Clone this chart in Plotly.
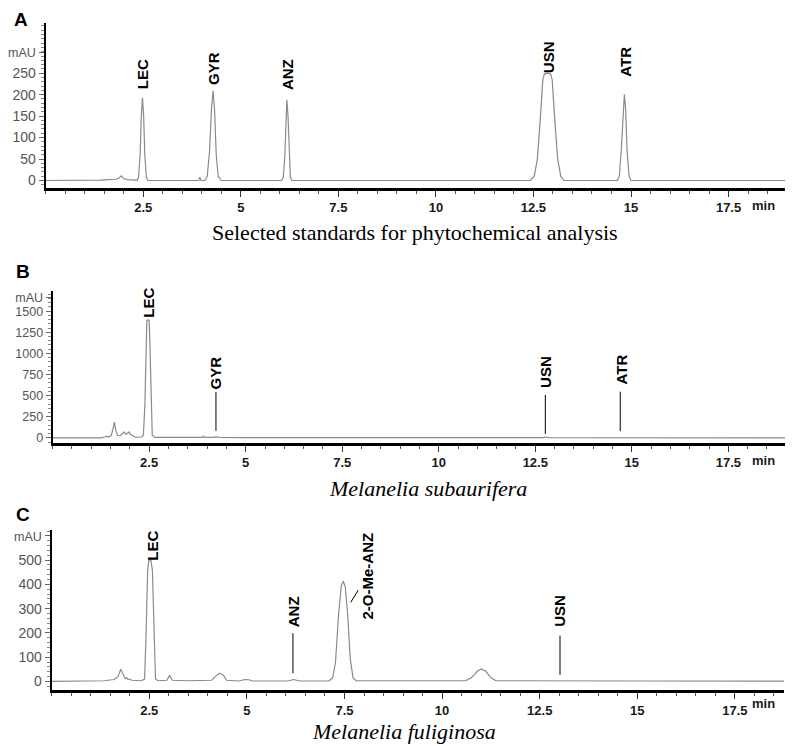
import plotly.graph_objects as go

# the page body has an 8px margin, so the figure is drawn 8px in from the corner
OFF = 8
W, H = 798 - OFF, 746 - OFF

# ---------------- data ----------------
# A: selected standards
time_a = [0.0, 1.2, 1.4, 1.6, 1.8, 1.88, 1.94, 2.0, 2.1, 2.3, 2.34, 2.38, 2.42, 2.45, 2.48, 2.51,
          2.54, 2.58, 2.62, 3.92, 3.95, 3.98, 4.08, 4.14, 4.2, 4.25, 4.29, 4.33, 4.37, 4.42, 4.5,
          6.05, 6.09, 6.13, 6.16, 6.18, 6.21, 6.24, 6.27, 6.31, 12.42, 12.52, 12.6, 12.68, 12.74,
          12.78, 12.86, 12.94, 12.98, 13.04, 13.12, 13.2, 13.28, 14.65, 14.7, 14.75, 14.8, 14.83,
          14.86, 14.9, 14.95, 15.0, 19.0]
mau_a = [0, 0, 1, 2, 3, 6, 11, 4, 2, 1, 0, 8, 60, 150, 193, 150,
         60, 8, 0, 0, 8, 0, 0, 10, 70, 170, 209, 160, 60, 10, 0,
         0, 8, 60, 150, 188, 150, 60, 8, 0, 0, 10, 50, 150, 235,
         248, 250, 248, 235, 150, 50, 10, 0, 0, 10, 70, 170, 200,
         170, 70, 10, 0, 0]

# B: Melanelia subaurifera
time_b = [0.0, 1.25, 1.35, 1.41, 1.45, 1.52, 1.57, 1.6, 1.63, 1.68, 1.75, 1.82, 1.86, 1.9, 1.94,
          1.98, 2.02, 2.08, 2.15, 2.3, 2.35, 2.39, 2.42, 2.44, 2.47, 2.5, 2.52, 2.55, 2.58, 2.65,
          3.0, 3.88, 3.91, 3.94, 4.15, 4.23, 4.32, 5.0, 12.7, 12.77, 12.85, 19.0]
mau_b = [0, 0, 10, 20, 10, 30, 120, 185, 100, 30, 25, 50, 70, 40, 55,
         70, 40, 20, 5, 10, 30, 400, 1100, 1390, 1397, 1390, 1100, 400, 30, 5,
         3, 5, 20, 5, 5, 12, 5, 3, 3, 10, 3, 0]

# C: Melanelia fuliginosa
time_c = [0.0, 1.05, 1.35, 1.6, 1.7, 1.77, 1.83, 1.88, 1.92, 1.96, 2.0, 2.05, 2.3, 2.38, 2.42,
          2.46, 2.49, 2.54, 2.58, 2.62, 2.66, 2.72, 2.95, 3.02, 3.09, 3.5, 4.1, 4.2, 4.3, 4.4,
          4.48, 4.8, 4.95, 5.05, 5.15, 6.05, 6.2, 6.35, 7.1, 7.2, 7.27, 7.35, 7.42, 7.47, 7.52,
          7.58, 7.65, 7.72, 7.8, 10.6, 10.75, 10.9, 11.0, 11.12, 11.25, 11.38, 12.9, 13.02,
          13.15, 14.5, 14.8, 15.1, 18.8]
mau_c = [0, 0, 3, 8, 20, 50, 25, 12, 15, 8, 10, 5, 3, 10, 200,
         460, 500, 500, 460, 200, 10, 3, 5, 25, 5, 3, 5, 22, 34, 26,
         5, 2, 8, 7, 2, 2, 8, 2, 2, 15, 80, 280, 395, 413, 390,
         280, 90, 15, 3, 3, 15, 42, 52, 42, 15, 3, 3, 5,
         3, 2, 4, 2, 1]

x_ticks = [2.5, 5, 7.5, 10, 12.5, 15, 17.5]
y_ticks_a = [0, 50, 100, 150, 200, 250]
y_ticks_b = [0, 250, 500, 750, 1000, 1250, 1500]
y_ticks_c = [0, 100, 200, 300, 400, 500]

# peak labels: (text, retention time, label centre mAU)
labels_a = [("LEC", 2.47, 248), ("GYR", 4.3, 261), ("ANZ", 6.2, 247),
            ("USN", 12.87, 287), ("ATR", 14.85, 277)]
labels_b = [("LEC", 2.48, 1606), ("GYR", 4.23, 773), ("USN", 12.76, 785), ("ATR", 14.72, 811)]
labels_c = [("LEC", 2.56, 558), ("ANZ", 6.18, 289), ("2-O-Me-ANZ", 8.08, 433), ("USN", 13.02, 291)]

# leader lines: (t0, y0, t1, y1)
leaders_b = [(4.23, 83, 4.23, 543), (12.76, 47, 12.76, 508), (14.70, 79, 14.70, 547)]
leaders_c = [(6.18, 34, 6.18, 199), (13.02, 27, 13.02, 189), (7.66, 326, 7.85, 376)]


def px(x):
    return (x - OFF) / W


def py(y):
    return 1 - (y - OFF) / H


FONT = "Liberation Sans, Arial, sans-serif"
SERIF = "Liberation Serif, Times New Roman, serif"
LINE = "#8a8a8a"

fig = go.Figure()
panels = [
    (time_a, mau_a, "x", "y"),
    (time_b, mau_b, "x2", "y2"),
    (time_c, mau_c, "x3", "y3"),
]
for t, v, xa, ya in panels:
    fig.add_trace(go.Scatter(x=t, y=v, mode="lines", xaxis=xa, yaxis=ya,
                             line=dict(color=LINE, width=1.2), showlegend=False,
                             hoverinfo="skip"))


def xaxis(domain, rng, anchor):
    return dict(domain=domain, range=rng, anchor=anchor, showgrid=False, zeroline=False,
                showline=True, linecolor="black", linewidth=2.5,
                ticks="outside", ticklen=6, tickwidth=1, tickcolor="#333",
                tickvals=x_ticks, ticktext=["<b>%g</b>" % v for v in x_ticks],
                tickfont=dict(family=FONT, size=13, color="#1a1a1a"),
                minor=dict(dtick=0.5, tick0=0, ticks="outside", ticklen=3, tickcolor="#555"))


def yaxis(domain, rng, ticks, mau_at, minor_step, anchor, fsize):
    return dict(domain=domain, range=rng, anchor=anchor, showgrid=False, zeroline=False,
                showline=True, linecolor="black", linewidth=2,
                ticks="outside", ticklen=5, tickwidth=1, tickcolor="#666",
                tickvals=ticks + [mau_at],
                ticktext=[str(v) for v in ticks] + ["<span style='font-size:12.5px'>mAU</span>"],
                tickfont=dict(family=FONT, size=fsize, color="#555"),
                minor=dict(dtick=minor_step, tick0=0, ticks="outside", ticklen=3,
                           tickcolor="#888"))


xa = xaxis([px(38), px(785)], [0.0, 18.95], "y")
xb = xaxis([px(45), px(785)], [0.0, 18.97], "y2")
xc = xaxis([px(44), px(784)], [0.0, 18.76], "y3")
ya = yaxis([py(188.3), py(23)], [-17, 367], y_ticks_a, 299, 10, "x", 14)
yb = yaxis([py(444), py(291.7)], [-59, 1740], y_ticks_b, 1661, 50, "x2", 12.5)
yc = yaxis([py(692.3), py(531.7)], [-37, 623], y_ticks_c, 600, 20, "x3", 14)

annotations = []
for labels, xr, yr in [(labels_a, "x", "y"), (labels_b, "x2", "y2"), (labels_c, "x3", "y3")]:
    for text, t, yv in labels:
        annotations.append(dict(text="<b>%s</b>" % text, x=t, y=yv, xref=xr, yref=yr,
                                textangle=-90, showarrow=False, xanchor="center",
                                yanchor="middle", font=dict(family=FONT, size=15, color="black")))

# panel letters ("A" hangs from the top edge so it stays inside the figure)
annotations.append(dict(text="<b>A</b>", x=px(13), y=1, xref="paper", yref="paper",
                        showarrow=False, xanchor="center", yanchor="top", borderpad=0,
                        font=dict(family=FONT, size=19, color="black")))
for letter, x0, y0 in [("B", 15, 272), ("C", 15, 516)]:
    annotations.append(dict(text="<b>%s</b>" % letter, x=px(x0), y=py(y0), xref="paper",
                            yref="paper", showarrow=False, xanchor="center", yanchor="middle",
                            font=dict(family=FONT, size=19, color="black")))

# "min" unit labels
for y0 in [206, 462, 705]:
    annotations.append(dict(text="<b>min</b>", x=px(763), y=py(y0), xref="paper", yref="paper",
                            showarrow=False, xanchor="center", yanchor="middle",
                            font=dict(family=FONT, size=13, color="#1a1a1a")))

# captions
for text, x0, y0 in [("Selected standards for phytochemical analysis", 411, 233),
                     ("<i>Melanelia subaurifera</i>", 424, 490),
                     ("<i>Melanelia fuliginosa</i>", 400, 733)]:
    annotations.append(dict(text=text, x=px(x0), y=py(y0), xref="paper", yref="paper",
                            showarrow=False, xanchor="center", yanchor="middle",
                            font=dict(family=SERIF, size=22, color="black")))

shapes = []
for leaders, xr, yr in [(leaders_b, "x2", "y2"), (leaders_c, "x3", "y3")]:
    for t0, y0, t1, y1 in leaders:
        shapes.append(dict(type="line", x0=t0, y0=y0, x1=t1, y1=y1, xref=xr, yref=yr,
                           line=dict(color="black", width=1)))

fig.update_layout(
    width=W, height=H,
    margin=dict(l=0, r=0, t=0, b=0),
    paper_bgcolor="white", plot_bgcolor="white",
    xaxis=xa, xaxis2=xb, xaxis3=xc,
    yaxis=ya, yaxis2=yb, yaxis3=yc,
    annotations=annotations, shapes=shapes,
    showlegend=False,
)

fig.write_html("out.html")
